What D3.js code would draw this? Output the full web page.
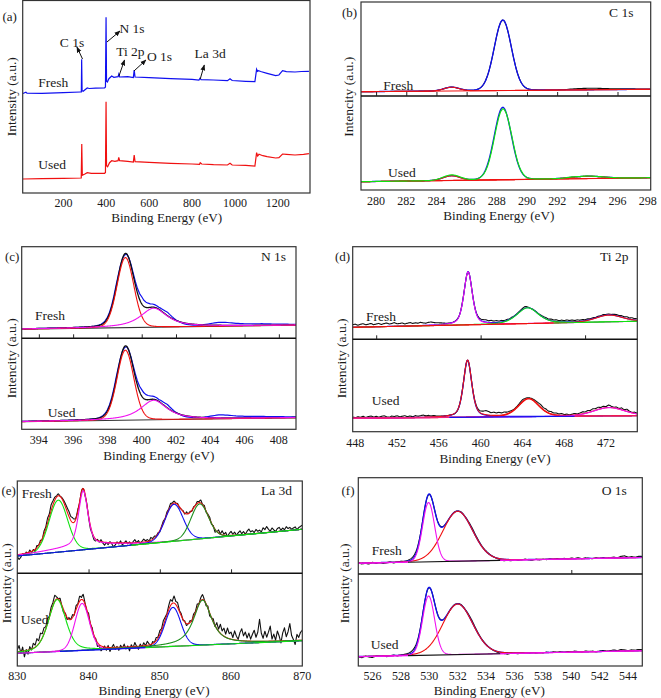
<!DOCTYPE html>
<html><head><meta charset="utf-8">
<script src="https://cdn.jsdelivr.net/npm/d3@7/dist/d3.min.js"></script>
<style>
body{margin:0;background:#fff}
</style>
</head><body><svg id="chart" width="661" height="698"></svg>
<script>
// ======================= DATA =======================
// (a) survey spectra: [binding energy eV, intensity a.u.]
const surveyFresh = [[11,99.5],[25,100.7],[30,99.8],[100,99.7],[200,100.3],[280,101],[283.5,101],[285,133.7],[287,102.3],[292,101.7],[311,105],[320,104.5],[350,104.8],[392,105],[396,106],[398.8,175.7],[401,111.7],[405,111],[412,114.3],[425,117],[435,115.7],[455,116.3],[458,118.8],[462,116],[500,116.3],[526,115.5],[530,123],[534,116],[600,115.3],[700,114.3],[800,113.7],[832,113],[837,114.8],[842,113.4],[900,113],[965,112.3],[977,114.2],[987,112.5],[1050,111.7],[1093,111.3],[1101,123.7],[1105,121.7],[1110,122.3],[1120,121.5],[1150,119.7],[1190,117.3],[1205,118],[1222,122.3],[1240,121.3],[1280,121],[1310,121.5],[1345,121.7]];
const surveyUsed = [[11,14],[100,14.3],[200,14.7],[283,15],[285.5,49],[288,17.7],[300,19],[311,20.3],[330,19.7],[392,19.7],[396,20.5],[398.8,91.3],[401,27.3],[406,26.3],[415,30.3],[425,32.3],[440,31.7],[455,32.3],[458,35.7],[462,32.3],[500,31.7],[526,31],[530,38],[534,31.3],[600,30.7],[700,29.7],[800,29],[835,28.7],[838,30.3],[845,29],[900,28.3],[965,28],[977,29.7],[987,28],[1050,27.7],[1093,27],[1101,40.3],[1106,37],[1112,38.7],[1130,37.3],[1150,36.3],[1190,35],[1205,35.3],[1222,39],[1240,38.7],[1280,38],[1320,38.7],[1345,39.3]];
const surveyTicks = [200,400,600,800,1000,1200];
const surveyPeakNames = ["C 1s","N 1s","Ti 2p","O 1s","La 3d"];
const sampleNames = ["Fresh","Used"];

// Fitted components: [centre eV, FWHM eV, height, lorentzian fraction]; baselines: [[eV,val],[eV,val]]
// residuals = raw spectrum minus fitted envelope, sampled from residStart with residStep
// ---- C 1s ----
const c1sTicks = [280,282,284,286,288,290,292,294,296,298];
const c1sFreshBase = [[279,4.3],[298.2,6.7]];
const c1sFreshPeaks = [[[285.0,1.2,3.7,0]],[[288.4,1.35,70.5,0.05]]];
const c1sFreshResid = [0,0,0,0,0,0,0,0,0,0,0,0,0,0,0,0,0,0,0,0,0,0,0,0,0,0,0,0.3,0.9,1.3,1.5,1.5,1.2,0.9,0.7,0.6,0.6,0.3,0.2];
const c1sUsedBase = [[279,8.3],[298.2,12.3]];
const c1sUsedPeaks = [[[285.0,1.3,4.6,0]],[[288.4,1.35,72.4,0.05]],[[294.0,2.5,2.3,0]]];
const c1sUsedResid = [0,0,0,0,0,0,0,0,0,0,0.2,0.6,0.9,0.6,0.2,0,-0.3,-2,-2.5,-1,1.5,0.6,0,0,0,0,0,0,0.3,0,0.3,0,0,0,0,0,0,0,0];
// ---- N 1s ----
const n1sTicks = [394,396,398,400,402,404,406,408];
const n1sFreshBase = [[393,9.2],[409,13.2]];
const n1sFreshPeaks = [[[399.05,1.15,70,0.1]],[[400.7,1.85,19,0.85]]];
const n1sFreshResid = [0,0,0,0,0,0,0,0,0,0.3,1,2.5,-1,2,7,3.5,2,3.5,0.5,-1,-1,-0.3,1.5,3,2.8,2,1.6,1.5,1.5,1.2,1,0.8,0.5];
const n1sUsedBase = [[393,7.6],[409,11.6]];
const n1sUsedPeaks = [[[399.05,1.15,70,0.1]],[[400.7,1.85,19.5,0.85]]];
const n1sUsedResid = [0,0,0,0,0,0,0,0,0,0.3,1,2.5,-1,2,6.5,3.5,2,3.5,0.5,-1,-1,-0.3,1.5,3,2.8,2,1.6,1.5,1.4,1.2,1,0.8,0.5];
// ---- Ti 2p ----
const ti2pTicks = [448,452,456,460,464,468,472];
const ti2pUpperTicks = [450,460,470];
const ti2pFreshBase = [[447.75,12],[475,18]];
const ti2pFreshPeaks = [[[458.8,0.95,53,0.5]],[[464.5,2.4,15.8,0.4]],[[472.3,3,6.8,0.2]]];
const ti2pFreshResid = [2.5,3,1.8,2.8,3.3,2.2,2.6,3.4,2,2.7,3.2,2.1,2.9,3.5,2.3,2.8,3.6,2.4,2.6,3.1,2,2.7,3.3,2.2,2.9,2.3,3.2,2.5,2.1,2.8,3.1,2.4,2,1.8,1.5,1,0.6,0.3,0.2,0.3,0.2,0,0.5,0,-0.5,0,0.3,0.5,0.9,1.3,1.8,2.2,1.6,2.1,1.5,1.9,1.2,1.5,0.9,1.1,0.6,0.8,0.2,0.5,0.7,1.2,1.6,0.6,-0.2,0.2,0.4,0.2,0.6,1,1.4,0.9,1.6,1.2,1.8,1.1,1.7,1.3,2,1.4,1.8,1.2,1.7,1.1,1.5,0.8,1.2,0.6,1,0.4,0.9,0.5,1.2,0.7,1,0.5,0.9,1.3,0.8,1.5,1.1,1.8,1.2,1.9,1.4,1.6];
const ti2pUsedBase = [[447.75,13.4],[475,16]];
const ti2pUsedPeaks = [[[458.75,0.95,57,0.5]],[[464.6,2.3,18,0.3]],[[472.3,3.5,8.3,0.2]]];
const ti2pUsedResid = [1.2,0.5,1.5,0.8,1.8,0.6,1.4,2,0.9,1.6,0.7,1.5,2.1,1,0.6,1.7,1.2,2,0.8,1.4,1.9,0.9,1.5,0.7,1.8,1.1,1.6,2.2,1.3,1.7,1,1.4,0.8,0.5,0.3,0.2,0,0.2,0,-0.3,-0.5,0,0.5,0.3,-0.3,0,0.5,1,1.5,2,3,4.2,3.5,2.6,3.2,2.4,3,2.2,2.6,1.8,1.5,1,0.6,0.8,1.4,2,1.2,0.8,0.6,1,1.5,2.2,2.8,2,2.6,1.8,2.4,1.5,2,1.2,1.8,0.8,1.2,0.4,0.9,1.5,0.7,1.2,2,1.3,2.1,1.4,2.4,1.6,2.2,1.3,1.8,1,2.5,1.4,0.6,1.4,0.5,1.9,0.8,2.2,0.9,0.3,1.2,0.6];
// ---- La 3d ----
const la3dTicks = [830,840,850,860,870];
const la3dUpperTicks = [840,850,860];
const la3dFreshBase = [[830,17.3],[870,44]];
const la3dFreshPeaks = [[[835.75,3.1,52,0.1]],[[839.25,1.55,55,0.5],[839.5,12,4,0]],[[852.0,3.0,37,0.1]],[[855.6,2.9,35,0.1]]];
const la3dFreshResid = [-2,-5,-3,0,-2,1,-1,2,-1,1,-2,2,0,2,-1,3,2,5,3,6,4,3,1,2,0,1,2,3,4,5,4,5,3,1,2,-1,1,0,-2,1,-1,-3,-1,-3,-2,1,-1,2,-1,-3,0,-2,1,-1,-4,-2,1,-1,2,-2,0,2,-1,1,-2,1,3,0,2,-1,1,3,1,2,0,3,1,2,0,1,-1,1,2,0,2,1,3,1,2,0,1,-1,0,1,-1,2,0,1,-1,1,0,2,1,3,0,2,-1,1,2,-1,1,-3,0,3,0,4,1,3,-1,2,4,1,3,0,2,4,1,3,0,3,5,2,3,1,4,2,3,1,5,3,6,3,1,4,2,0,3,4,1,3,1,4,2,3,1,2,3,0,2,3,4];
const la3dUsedBase = [[830,12.7],[870,25.3]];
const la3dUsedPeaks = [[[835.6,2.9,52,0.4]],[[839.1,2.4,47,0.1]],[[851.85,2.6,39,0.1]],[[856.0,3.0,45,0.8]]];
const la3dUsedResid = [2,6,-2,4,-6,1,-4,3,-1,5,2,7,3,8,4,6,2,5,1,4,3,6,2,0,3,-1,-3,1,-2,2,0,3,-1,4,1,5,2,6,1,-2,3,-1,2,-2,1,-4,-1,-5,-2,1,-3,2,-4,0,3,-2,1,-3,2,-1,3,-2,1,-4,2,-1,4,0,-3,2,-1,3,0,4,1,-2,2,0,3,1,4,2,5,3,1,4,6,2,7,3,5,1,2,-1,1,-2,0,2,-1,3,1,4,0,3,5,1,-2,2,-3,0,3,-1,6,2,9,4,8,3,10,5,7,2,9,4,1,8,12,5,9,3,8,2,7,11,4,9,22,8,3,10,4,9,15,2,7,1,10,5,-2,8,13,4,9,17,5,1,-4,6,3,8,10];
// ---- O 1s ----
const o1sTicks = [526,528,530,532,534,536,538,540,542,544];
const o1sUpperTicks = [540];
const o1sFreshBase = [[525,10.7],[545,16.5]];
const o1sFreshPeaks = [[[532.0,2.5,50,0.1]],[[529.95,1.0,59.3,0.05]]];
const o1sFreshResid = [0.5,-1,-0.3,-1.2,0.4,-0.8,0,-1,-0.5,0.3,-0.8,-0.2,0.6,0.2,0.8,1.5,2,1.5,0.8,0,-0.5,0,0.3,0.5,0.2,-0.2,0,0.3,0,0.4,0.2,0.8,1.5,1.2,0.8,0.5,0.6,0.4,0.2,-0.3,-1,-1.5,-0.8,-1.2,0,-0.8,-0.3,0.4,-0.5,-0.8,0.2,-0.6,0,-0.4,0.3,-0.2,0.5,-0.3,0.6,0,0.8,0.2,1,-0.2,0.7,0.3,-0.3,0.5,0,0.6,-0.2,0.4,0.9,0.2,1.5,2,0.5,1,0.3,1.2,1];
const o1sUsedBase = [[525,9.3],[545,15.3]];
const o1sUsedPeaks = [[[532.0,2.5,50.6,0.1]],[[529.95,1.0,59.2,0.05]]];
const o1sUsedResid = [-0.5,-1.2,0.2,-0.8,-1.3,0,-0.6,0.4,-0.9,-0.2,0.5,-0.7,0.1,0.6,1,1.8,2.2,1.4,0.6,0,-0.4,0.2,0.5,0.3,0,-0.3,0.1,0.4,0.2,0.5,0.3,1,1.6,1.1,0.7,0.4,0.5,0.2,-0.2,-0.6,-1.2,-0.9,-1.4,-0.5,-0.2,-0.9,0.1,-0.4,-0.7,0.3,-0.5,0,-0.3,0.4,-0.1,0.6,0,0.5,-0.2,0.7,0.1,0.9,0.3,-0.1,0.8,0.2,0.6,-0.2,0.5,0.9,0.1,0.7,1.3,0.4,1.6,1.1,0.3,1,0.6,1.3,0.9];

// ======================= LAYOUT / STYLE =======================
const FONT = "'Liberation Serif', 'Times New Roman', Times, 'DejaVu Serif', serif";
const BLUE="#1010f0", RED="#f01010", MAG="#f010f0", GRN="#10e010", DGRN="#1f8f1f", BLK="#111";
const svg = d3.select("#chart").style("font-family",FONT);
const defs = svg.append("defs");
defs.append("marker").attr("id","ah").attr("viewBox","0 0 10 10").attr("refX",9).attr("refY",5)
  .attr("markerWidth",6).attr("markerHeight",6).attr("orient","auto")
  .append("path").attr("d","M0,1 L10,5 L0,9 Z").attr("fill","#111");

function pv(x,p){const d=(x-p[0])/p[1];return p[2]*(p[3]/(1+4*d*d)+(1-p[3])*Math.exp(-4*Math.LN2*d*d));}
function comp(x,parts){return d3.sum(parts,p=>pv(x,p));}
function baseAt(x,b){return b[0][1]+(b[1][1]-b[0][1])*(x-b[0][0])/(b[1][0]-b[0][0]);}
function residAt(x,r,start,step){const t=(x-start)/step; if(t<=0) return r[0]; if(t>=r.length-1) return r[r.length-1]; const i=Math.floor(t),f=t-i; return r[i]*(1-f)+r[i+1]*f;}

let clipId=0;
function clipRect(x,y,w,h){const id="cl"+(clipId++); defs.append("clipPath").attr("id",id).append("rect").attr("x",x).attr("y",y).attr("width",w).attr("height",h); return "url(#"+id+")";}

function txt(x,y,s,opt={}){
  const t=svg.append("text").attr("x",x).attr("y",y).text(s).attr("font-size",opt.size||13)
    .attr("text-anchor",opt.anchor||"start").style("font-family",FONT).attr("fill","#1a1a1a");
  if(opt.rot) t.attr("transform",`rotate(-90,${x},${y})`);
  return t;
}
function tickLabels(xs,ticks,y){
  ticks.forEach(v=>txt(xs(v),y,String(v),{anchor:"middle",size:12}));
}

function drawSub(g,xs,ys,s,layers){
  const [lo,hi]=xs.domain();
  const N=900, grid=d3.range(N+1).map(i=>lo+(hi-lo)*i/N);
  const env=x=>baseAt(x,s.base)+d3.sum(s.peaks,pk=>comp(x,pk));
  const line=d3.line().x(d=>xs(d[0])).y(d=>ys(d[1]));
  layers.forEach(L=>{
    let pts;
    if(L.t==="raw"){const st=s.step/4,n=Math.round((hi-lo)/st); pts=d3.range(n+1).map(i=>{const x=Math.min(hi,lo+i*st);return [x,env(x)+residAt(x,s.resid,s.start,s.step)];});}
    else if(L.t==="env") pts=grid.map(x=>[x,env(x)]);
    else if(L.t==="peak") pts=grid.map(x=>[x,baseAt(x,s.base)+comp(x,s.peaks[L.i])]);
    else {const a=L.from??lo,b=L.to??hi; pts=[[a,baseAt(a,s.base)],[b,baseAt(b,s.base)]];}
    g.append("path").attr("d",line(pts)).attr("fill","none").attr("stroke",L.c)
      .attr("stroke-width",L.w||1.1).attr("stroke-linejoin","round");
  });
}

function splitPanel(P){
  const xs=d3.scaleLinear().domain(P.domain).range([P.x0,P.x1]);
  const yU=d3.scaleLinear().domain([0,P.mid-P.top]).range([P.mid,P.top]);
  const yL=d3.scaleLinear().domain([0,P.bot-P.mid]).range([P.bot,P.mid]);
  const gU=svg.append("g").attr("clip-path",clipRect(P.x0,P.top,P.x1-P.x0,P.mid-P.top));
  const gL=svg.append("g").attr("clip-path",clipRect(P.x0,P.mid,P.x1-P.x0,P.bot-P.mid));
  drawSub(gU,xs,yU,P.upper,P.upperLayers);
  drawSub(gL,xs,yL,P.lower,P.lowerLayers);
  svg.append("rect").attr("x",P.x0).attr("y",P.top).attr("width",P.x1-P.x0).attr("height",P.bot-P.top)
    .attr("fill","none").attr("stroke","#333").attr("stroke-width",1.2);
  svg.append("line").attr("x1",P.x0).attr("x2",P.x1).attr("y1",P.mid).attr("y2",P.mid).attr("stroke","#111").attr("stroke-width",1.6);
  svg.append("g").attr("transform",`translate(0,${P.mid})`)
    .call(d3.axisTop(xs).tickValues(P.upperTicks).tickSize(4).tickFormat(""))
    .call(g=>{g.select(".domain").remove(); g.selectAll("line").attr("stroke","#222").attr("stroke-width",1);});
  tickLabels(xs,P.ticks,P.tickY+3.8);
  txt((P.x0+P.x1)/2+P.xlabDx, P.xlabY+5, "Binding Energy (eV)", {anchor:"middle",size:13.2});
  txt(P.ylabX+4.5, P.ylabY, "Intencity (a.u.)", {anchor:"middle",rot:true,size:13.5});
  txt(P.tagX, P.tagY+4.5, P.tag, {size:13});
  txt(P.nameX, P.tagY+4.5, P.name, {size:13.5});
  txt(P.freshX, P.freshY+4.5, sampleNames[0], {size:13.5});
  txt(P.usedX, P.usedY+4.5, sampleNames[1], {size:13.5});
}

// ---------- (a) survey ----------
(function(){
  const P={x0:22.7,x1:310,top:0.5,bot:193};
  const xs=d3.scaleLinear().domain([10,1350]).range([P.x0,P.x1]);
  const ys=d3.scaleLinear().domain([0,192]).range([193,1]);
  const g=svg.append("g").attr("clip-path",clipRect(P.x0,P.top,P.x1-P.x0,P.bot-P.top));
  const line=d3.line().x(d=>xs(d[0])).y(d=>ys(d[1]));
  g.append("path").attr("d",line(surveyFresh)).attr("fill","none").attr("stroke",BLUE).attr("stroke-width",1.2);
  g.append("path").attr("d",line(surveyUsed)).attr("fill","none").attr("stroke",RED).attr("stroke-width",1.2);
  svg.append("rect").attr("x",P.x0).attr("y",P.top).attr("width",P.x1-P.x0).attr("height",P.bot-P.top)
    .attr("fill","none").attr("stroke","#333").attr("stroke-width",1.2);
  tickLabels(xs,surveyTicks,202.7+3.8);
  txt(166.7,221.5,"Binding Energy (eV)",{anchor:"middle",size:13.2});
  txt(16.5,96.7,"Intensity (a.u.)",{anchor:"middle",rot:true,size:13.5});
  txt(2.5,20.5,"(a)",{size:13});
  txt(xs(83),ys(110.3)+4.5,sampleNames[0],{size:13.5});
  txt(xs(83),ys(28.7)+4.5,sampleNames[1],{size:13.5});
  const labelPos=[[240,150.3],[520,164.7],[512,141.3],[648,137],[884,139.7]];
  const arrows=[[289,134,263,146],[403,151,464,162],[459,117,485,133],[529,122,585,133],[838,114,857,128]];
  surveyPeakNames.forEach((n,i)=>{
    txt(xs(labelPos[i][0]),ys(labelPos[i][1])+4.5,n,{anchor:"middle",size:13.5});
    const a=arrows[i];
    svg.append("line").attr("x1",xs(a[0])).attr("y1",ys(a[1])).attr("x2",xs(a[2])).attr("y2",ys(a[3]))
      .attr("stroke","#111").attr("stroke-width",1).attr("marker-end","url(#ah)");
  });
})();

// ---------- (b) C 1s ----------
splitPanel({x0:361,x1:650.7,top:2,mid:96,bot:190,domain:[279,298.2],ticks:c1sTicks,upperTicks:c1sTicks.slice(0,9),
  tickY:201,xlabY:215,xlabDx:-7,ylabX:348.3,ylabY:96.7,tag:"(b)",tagX:342,tagY:12.7,name:"C 1s",nameX:609,
  freshX:383.3,freshY:85.7,usedX:388,usedY:172.7,
  upper:{base:c1sFreshBase,peaks:c1sFreshPeaks,resid:c1sFreshResid,start:279,step:0.5},
  upperLayers:[{t:"raw",c:BLK},{t:"env",c:BLUE,w:1.3},{t:"base",c:RED},{t:"peak",i:0,c:RED}],
  lower:{base:c1sUsedBase,peaks:c1sUsedPeaks,resid:c1sUsedResid,start:279,step:0.5},
  lowerLayers:[{t:"env",c:BLUE,w:1.3},{t:"base",c:RED},{t:"peak",i:0,c:RED},{t:"peak",i:2,c:RED},{t:"raw",c:GRN,w:1.2}]});

// ---------- (c) N 1s ----------
splitPanel({x0:21.7,x1:296,top:246.7,mid:338.3,bot:429.3,domain:[393,409],ticks:n1sTicks,upperTicks:n1sTicks,
  tickY:440,xlabY:455,xlabDx:0,ylabX:11.7,ylabY:358.3,tag:"(c)",tagX:5,tagY:256.7,name:"N 1s",nameX:261,
  freshX:35,freshY:315.7,usedX:47.7,usedY:412.7,
  upper:{base:n1sFreshBase,peaks:n1sFreshPeaks,resid:n1sFreshResid,start:393,step:0.5},
  upperLayers:[{t:"raw",c:BLUE,w:1.2},{t:"env",c:BLK,w:1.3},{t:"base",c:"#333"},{t:"peak",i:0,c:RED},{t:"peak",i:1,c:MAG}],
  lower:{base:n1sUsedBase,peaks:n1sUsedPeaks,resid:n1sUsedResid,start:393,step:0.5},
  lowerLayers:[{t:"raw",c:BLUE,w:1.2},{t:"env",c:BLK,w:1.3},{t:"base",c:"#333"},{t:"peak",i:0,c:RED},{t:"peak",i:1,c:MAG}]});

// ---------- (d) Ti 2p ----------
splitPanel({x0:352.7,x1:637.3,top:246.7,mid:339.3,bot:431.7,domain:[447.75,475],ticks:ti2pTicks,upperTicks:ti2pUpperTicks,
  tickY:443.3,xlabY:458,xlabDx:0,ylabX:341.7,ylabY:358.3,tag:"(d)",tagX:335,tagY:256.7,name:"Ti 2p",nameX:600,
  freshX:366,freshY:316.7,usedX:371.7,usedY:400,
  upper:{base:ti2pFreshBase,peaks:ti2pFreshPeaks,resid:ti2pFreshResid,start:447.75,step:0.25},
  upperLayers:[{t:"raw",c:BLK},{t:"env",c:BLUE},{t:"peak",i:0,c:MAG},{t:"peak",i:1,c:GRN},{t:"peak",i:2,c:RED},{t:"base",c:RED,to:467},{t:"base",c:GRN,from:467}],
  lower:{base:ti2pUsedBase,peaks:ti2pUsedPeaks,resid:ti2pUsedResid,start:447.75,step:0.25},
  lowerLayers:[{t:"raw",c:BLK},{t:"peak",i:0,c:BLUE,w:1.3},{t:"peak",i:1,c:RED,w:1.4},{t:"env",c:RED},{t:"peak",i:2,c:MAG},{t:"base",c:"#f0207a",to:457},{t:"base",c:BLUE,from:457,to:469},{t:"base",c:"#f0207a",from:469}]});

// ---------- (e) La 3d ----------
splitPanel({x0:17.3,x1:302.3,top:481,mid:573.3,bot:666,domain:[830,870],ticks:la3dTicks,upperTicks:la3dUpperTicks,
  tickY:676,xlabY:690,xlabDx:-5.8,ylabX:6.7,ylabY:583.3,tag:"(e)",tagX:1.5,tagY:490.7,name:"La 3d",nameX:261,
  freshX:21.7,freshY:493.3,usedX:20.7,usedY:619.3,
  upper:{base:la3dFreshBase,peaks:la3dFreshPeaks,resid:la3dFreshResid,start:830,step:0.25},
  upperLayers:[{t:"raw",c:BLK},{t:"env",c:RED},{t:"peak",i:0,c:GRN},{t:"peak",i:1,c:MAG},{t:"peak",i:2,c:BLUE},{t:"peak",i:3,c:DGRN},{t:"base",c:BLUE,to:846},{t:"base",c:GRN,from:846}],
  lower:{base:la3dUsedBase,peaks:la3dUsedPeaks,resid:la3dUsedResid,start:830,step:0.25},
  lowerLayers:[{t:"raw",c:BLK},{t:"env",c:RED},{t:"peak",i:0,c:GRN},{t:"peak",i:1,c:MAG},{t:"peak",i:2,c:BLUE},{t:"peak",i:3,c:DGRN},{t:"base",c:MAG,to:836},{t:"base",c:BLUE,from:836,to:848},{t:"base",c:GRN,from:848}]});

// ---------- (f) O 1s ----------
splitPanel({x0:358.3,x1:642.3,top:477.7,mid:574,bot:666,domain:[525,545],ticks:o1sTicks,upperTicks:o1sUpperTicks,
  tickY:676,xlabY:690,xlabDx:-11,ylabX:345,ylabY:583.3,tag:"(f)",tagX:341.5,tagY:490,name:"O 1s",nameX:601.7,
  freshX:371.7,freshY:550,usedX:370.7,usedY:644,
  upper:{base:o1sFreshBase,peaks:o1sFreshPeaks,resid:o1sFreshResid,start:525,step:0.25},
  upperLayers:[{t:"raw",c:BLK},{t:"env",c:BLUE,w:1.3},{t:"peak",i:0,c:RED},{t:"peak",i:1,c:MAG},{t:"base",c:MAG,to:528.5},{t:"base",c:BLK,from:528.5,to:535},{t:"base",c:MAG,from:535}],
  lower:{base:o1sUsedBase,peaks:o1sUsedPeaks,resid:o1sUsedResid,start:525,step:0.25},
  lowerLayers:[{t:"raw",c:BLK},{t:"env",c:BLUE,w:1.3},{t:"peak",i:0,c:RED},{t:"peak",i:1,c:MAG},{t:"base",c:MAG,to:528.5},{t:"base",c:BLK,from:528.5,to:535},{t:"base",c:MAG,from:535}]});
</script>
</body></html>
